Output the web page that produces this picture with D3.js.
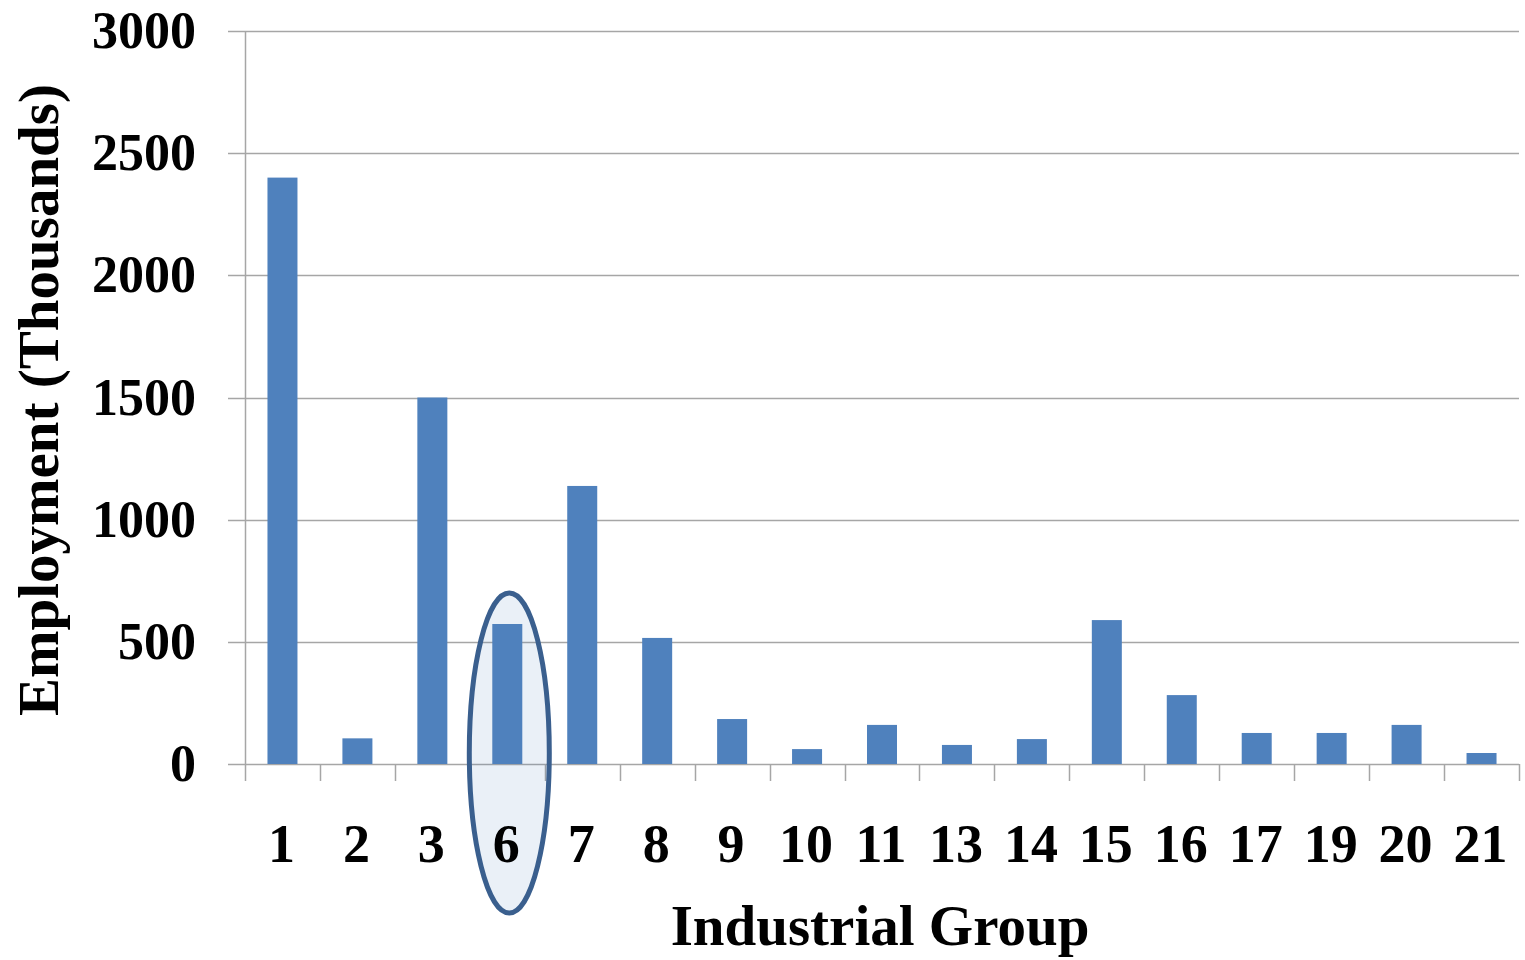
<!DOCTYPE html>
<html><head><meta charset="utf-8">
<script src="https://cdn.jsdelivr.net/npm/d3@7"></script>
<style>body{margin:0;background:#fff}svg{display:block}</style>
</head><body>
<svg id="c" width="1525" height="960"></svg>
<script>
const categories = ["1","2","3","6","7","8","9","10","11","13","14","15","16","17","19","20","21"];
const employment = [2400,105,1500,573,1138,516,184,61,160,78,102,589,282,127,127,160,45];
const yTicks = [0,500,1000,1500,2000,2500,3000];
const highlighted = "6";

const svg = d3.select("#c");
const L = 245, R = 1519, T = 31, B = 764;
const font = "'Liberation Serif', 'Times New Roman', serif";

const xb = d3.scaleBand().domain(categories).range([L, R]);
const y = d3.scaleLinear().domain([0, 3000]).range([B, T]);

// gridlines
svg.append("g").selectAll("line").data(yTicks).join("line")
  .attr("x1", 228).attr("x2", R)
  .attr("y1", d => Math.round(y(d)) + 0.5).attr("y2", d => Math.round(y(d)) + 0.5)
  .attr("stroke", "#a6a6a6").attr("stroke-width", 1.5);

// y axis line
svg.append("line").attr("x1", L + 0.5).attr("x2", L + 0.5).attr("y1", T).attr("y2", B)
  .attr("stroke", "#a6a6a6").attr("stroke-width", 1.5);

// x category tick marks
const bounds = categories.map(c => xb(c)).concat([R]);
svg.append("g").selectAll("line").data(bounds).join("line")
  .attr("x1", d => Math.round(d) + 0.5).attr("x2", d => Math.round(d) + 0.5)
  .attr("y1", B).attr("y2", B + 17)
  .attr("stroke", "#a6a6a6").attr("stroke-width", 1.5);

// bars
svg.append("g").selectAll("rect").data(categories).join("rect")
  .attr("x", (c) => xb(c) + xb.bandwidth()/2 - 15)
  .attr("width", 30)
  .attr("y", (c, i) => y(employment[i]))
  .attr("height", (c, i) => B - y(employment[i]))
  .attr("fill", "#4f81bd");

// highlight ellipse
const cx = xb(highlighted) + xb.bandwidth()/2 + 2;
svg.append("ellipse").attr("cx", cx).attr("cy", 753).attr("rx", 40).attr("ry", 160)
  .attr("fill", "#4f81bd").attr("fill-opacity", 0.12)
  .attr("stroke", "#3a5f8e").attr("stroke-width", 5);

// y tick labels
svg.append("g").selectAll("text").data(yTicks).join("text")
  .attr("x", 196).attr("y", d => y(d) + 17)
  .attr("text-anchor", "end")
  .attr("font-family", font).attr("font-weight", "bold").attr("font-size", 52)
  .text(d => d);

// x tick labels
svg.append("g").selectAll("text").data(categories).join("text")
  .attr("x", c => xb(c) + xb.bandwidth()/2 - 1).attr("y", 862)
  .attr("text-anchor", "middle")
  .attr("font-family", font).attr("font-weight", "bold").attr("font-size", 54)
  .text(c => c);

// axis titles
svg.append("text").attr("x", 880).attr("y", 945).attr("text-anchor", "middle")
  .attr("font-family", font).attr("font-weight", "bold").attr("font-size", 57)
  .text("Industrial Group");

svg.append("text").attr("transform", "translate(58,400) rotate(-90)").attr("text-anchor", "middle")
  .attr("font-family", font).attr("font-weight", "bold").attr("font-size", 57)
  .text("Employment (Thousands)");
</script>
</body></html>
